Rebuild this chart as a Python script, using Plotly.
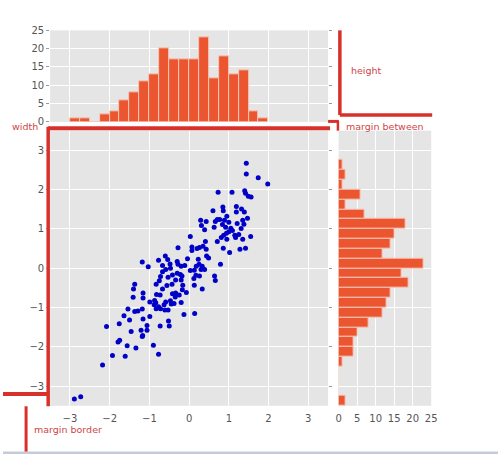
import plotly.graph_objects as go

# scatter points
x_vals = [
    -2.89, -2.73,
    -1.40, -1.16, -0.67, -0.82, -0.73, -0.42, -0.34, -0.25, -0.17, -0.07,
    -0.35, -1.41, -1.16, -0.99, -0.87, -0.84, -0.88, -0.77, -0.83, -0.72,
    -0.59, -0.63, -0.47, -0.45, -0.38, -0.20, -0.61, -0.53, -1.54, -1.37,
    -1.29, -1.18, -1.64, -1.50, -1.16, -0.99, -0.13, -2.08, -1.76, -0.52,
    -1.06, -0.73, -0.50, -1.46, -1.21, -1.06, -1.17, -1.18, -1.75, -1.79,
    -1.56, -1.34, -0.90, -1.93, -1.61, -0.77, -2.18,
    0.33, 0.14,
    -0.28, -1.18, -1.03, -0.77, -0.60, -0.54, -0.67, -0.48, -0.30, -0.28,
    -0.20, -0.11, -0.04, -0.59, -0.47, -0.67, -0.42, -0.30, -0.22, -0.18,
    -0.53, -0.72, -0.75, -0.34, -0.20, -0.16, -0.56, -0.43, -0.83, -1.37,
    0.29, 0.43, 0.31, 0.39, 0.66, 0.71, 0.77, 0.89, 0.95, 1.00,
    0.84, 0.63, 0.92, 1.05, 1.21, 1.35, 1.47, 1.38, 1.31, 1.00,
    1.09, 0.94, 0.87, 0.81, 0.95, 1.15, 1.25, 1.17, 1.35, 1.55,
    0.71, 0.03, 0.41, 0.35, 0.26, 0.20, 0.07, 0.07, 0.43, 0.86,
    1.02, 1.28, 1.42, 0.44, 0.49, 0.23, 0.79, 0.25, 0.18, 0.33,
    0.13, 0.30, 0.39, 0.03, 0.17, 0.26, 0.64, 0.66, 0.13, 0.12,
    1.44, 1.44, 1.74, 1.98, 0.73, 1.08, 1.40, 1.42, 1.49, 1.56,
    0.60, 0.85, 0.86, 1.19, 1.32, 1.19, 1.39,
]
y_vals = [
    -3.33, -3.27,
    -0.53, -0.63, -0.53, -0.67, -0.68, -0.65, -0.63, -0.68, -0.55, -0.62,
    -0.73, -0.74, -0.76, -0.86, -0.82, -0.88, -0.93, -0.98, -1.03, -1.03,
    -0.86, -0.93, -0.83, -0.91, -0.90, -0.87, -1.06, -1.06, -1.04, -1.10,
    -1.09, -1.04, -1.21, -1.32, -1.29, -1.23, -1.18, -1.48, -1.41, -1.34,
    -1.46, -1.47, -1.47, -1.61, -1.58, -1.58, -1.71, -1.74, -1.83, -1.88,
    -1.97, -2.03, -1.96, -2.22, -2.24, -2.19, -2.46,
    -0.53, -1.15,
    0.52, 0.16, 0.04, 0.20, 0.31, 0.22, 0.07, 0.11, 0.17, 0.10,
    0.05, 0.07, 0.24, -0.03, 0.00, -0.09, -0.17, -0.13, -0.16, -0.20,
    -0.23, -0.21, -0.32, -0.30, -0.30, -0.43, -0.44, -0.41, -0.41, -0.41,
    1.22, 1.19, 1.09, 0.98, 1.19, 1.24, 1.24, 1.22, 1.32, 1.17,
    1.11, 1.04, 1.04, 1.02, 1.14, 1.22, 1.27, 1.12, 1.01, 0.93,
    0.96, 0.89, 0.84, 0.78, 0.74, 0.84, 0.86, 0.78, 0.74, 0.81,
    0.68, 0.81, 0.68, 0.56, 0.53, 0.50, 0.54, 0.45, 0.48, 0.51,
    0.40, 0.48, 0.51, 0.31, 0.26, 0.23, 0.10, 0.10, 0.05, 0.05,
    -0.05, -0.03, -0.03, -0.06, -0.18, -0.20, -0.20, -0.31, -0.43, -0.26,
    2.67, 2.40, 2.30, 2.14, 1.93, 1.93, 1.97, 1.91, 1.83, 1.81,
    1.46, 1.56, 1.46, 1.57, 1.51, 1.43, 1.43,
]

# top histogram (x), bins of 0.25
x_bin_centers = [-2.875, -2.625, -2.375, -2.125, -1.875, -1.625, -1.375, -1.125,
                 -0.875, -0.625, -0.375, -0.125, 0.125, 0.375, 0.625, 0.875,
                 1.125, 1.375, 1.625, 1.875]
x_counts = [1, 1, 0, 2, 3, 6, 8, 11, 13, 20, 17, 17, 17, 23, 12, 18, 13, 14, 3, 1]

# right histogram (y), bins of 0.25
y_bin_centers = [-3.375, -3.125, -2.875, -2.625, -2.375, -2.125, -1.875, -1.625,
                 -1.375, -1.125, -0.875, -0.625, -0.375, -0.125, 0.125, 0.375,
                 0.625, 0.875, 1.125, 1.375, 1.625, 1.875, 2.125, 2.375, 2.625]
y_counts = [2, 0, 0, 0, 1, 4, 4, 5, 8, 12, 13, 14, 19, 17, 23, 12, 14, 15, 18,
            7, 2, 6, 1, 2, 1]

scatter_ticks = [-3, -2, -1, 0, 1, 2, 3]
hist_ticks = [0, 5, 10, 15, 20, 25]

W, H = 504, 460
BG = "#E5E5E5"
BAR = "#EB5530"
RED = "#D8302B"
RED_TEXT = "#CF4646"


def px(x):
    return x / W


def py(y):
    return 1 - y / H


fig = go.Figure()
fig.add_trace(go.Scatter(
    x=x_vals, y=y_vals, mode="markers",
    marker=dict(size=5, color="#0000C8", line=dict(width=0)),
    xaxis="x", yaxis="y",
))
fig.add_trace(go.Bar(
    x=x_bin_centers, y=x_counts, width=0.25,
    marker=dict(color=BAR, line=dict(color="#F6C7B8", width=1)),
    xaxis="x2", yaxis="y2",
))
fig.add_trace(go.Bar(
    y=y_bin_centers, x=y_counts, width=0.25, orientation="h",
    marker=dict(color=BAR, line=dict(color="#F6C7B8", width=1)),
    xaxis="x3", yaxis="y3",
))

tick_font = dict(family="DejaVu Sans", size=10, color="#555555")
common = dict(showgrid=True, gridcolor="white", gridwidth=1, zeroline=False,
              showline=False, tickfont=tick_font, fixedrange=True)

main_x = [px(48), px(331)]
main_y = [py(410.5), py(128)]

fig.update_layout(
    width=W, height=H,
    margin=dict(l=0, r=0, t=0, b=0),
    paper_bgcolor="white", plot_bgcolor=BG,
    showlegend=False, bargap=0,
    xaxis=dict(domain=main_x, anchor="y", range=[-3.5, 3.5],
               tickvals=scatter_ticks, ticks="", ticklabelstandoff=5,
               **common),
    yaxis=dict(domain=main_y, anchor="x", range=[-3.5, 3.5],
               tickvals=scatter_ticks, ticks="outside", ticklen=3,
               tickcolor="#999999", mirror="ticks", **common),
    xaxis2=dict(domain=main_x, anchor="y2", range=[-3.5, 3.5],
                tickvals=scatter_ticks, showticklabels=False, ticks="", **common),
    yaxis2=dict(domain=[py(119), py(25)], anchor="x2", range=[0, 25],
                tickvals=hist_ticks, ticks="outside", ticklen=3,
                tickcolor="#999999", mirror="ticks", **common),
    xaxis3=dict(domain=[px(341.7), px(436)], anchor="y3", range=[0, 25],
                tickvals=hist_ticks, ticks="", ticklabelstandoff=5, **common),
    yaxis3=dict(domain=main_y, anchor="x3", range=[-3.5, 3.5],
                tickvals=scatter_ticks, showticklabels=False, ticks="", **common),
)


def red_line(x0, y0, x1, y1, w):
    fig.add_shape(type="line", xref="paper", yref="paper",
                  x0=px(x0), y0=py(y0), x1=px(x1), y1=py(y1),
                  line=dict(color=RED, width=w))


# hand drawn markup over the chart
red_line(46, 125.5, 333, 125.5, 4)       # width
red_line(46, 124, 46, 411, 3.5)
red_line(0, 398.5, 46, 398.5, 4)
red_line(23.5, 411, 23.5, 460, 3)        # margin border
red_line(343, 25, 343, 112, 3.5)         # height
red_line(343, 112, 437, 112, 3.5)
red_line(331, 118.5, 342, 118.5, 3)      # margin between
red_line(341, 118, 341, 128, 2.5)

fig.add_shape(type="rect", xref="paper", yref="paper", layer="above",
              x0=0, x1=1, y0=py(460), y1=py(457.5),
              fillcolor="#C6CBD7", line=dict(width=0))

labels = [("width", 7, 124), ("height", 352, 66),
          ("margin between", 347, 124), ("margin border", 30, 435)]
for text, lx, ly in labels:
    fig.add_annotation(text=text, xref="paper", yref="paper",
                       x=px(lx), y=py(ly), xanchor="left", yanchor="middle",
                       showarrow=False,
                       font=dict(family="DejaVu Sans", size=9.5, color=RED_TEXT))

# page body has a default margin; drop it so the figure sits at the corner
fig.write_html("out.html", config={"displayModeBar": False},
               post_script="document.body.style.margin='0';")
